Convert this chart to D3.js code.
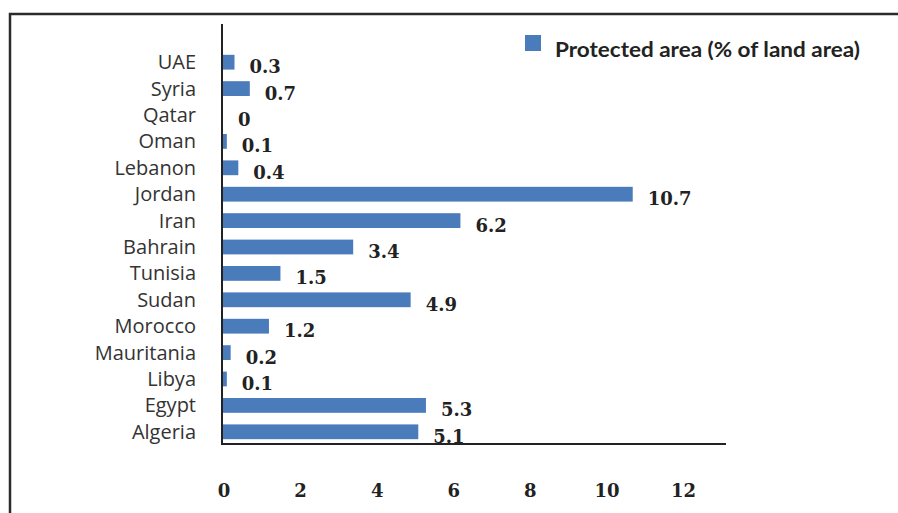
<!DOCTYPE html>
<html><head><meta charset="utf-8">
<script src="https://cdn.jsdelivr.net/npm/d3@7"></script>
<style>body{margin:0;background:#fff}svg{display:block}</style>
</head><body>
<svg id="c" width="898" height="513"></svg>
<script>
const categories = ["UAE","Syria","Qatar","Oman","Lebanon","Jordan","Iran","Bahrain","Tunisia","Sudan","Morocco","Mauritania","Libya","Egypt","Algeria"];
const values = [0.3,0.7,0,0.1,0.4,10.7,6.2,3.4,1.5,4.9,1.2,0.2,0.1,5.3,5.1];
const xTicks = [0,2,4,6,8,10,12];
const seriesName = "Protected area (% of land area)";

const svg = d3.select("#c");
// frame
svg.append("path").attr("d","M10,513 L10,14 L898,14").attr("fill","none").attr("stroke","#2b2b2b").attr("stroke-width",2.5);

const x = d3.scaleLinear().domain([0,12]).range([223,682.5]);
const y = d3.scaleBand().domain(categories).range([49,445]).paddingInner(0.44).paddingOuter(0.22);

const blue = "#4a7bbb";
svg.selectAll("rect.bar").data(values).enter().append("rect").attr("class","bar")
  .attr("x",x(0)).attr("y",(d,i)=>y(categories[i]))
  .attr("width",d=>x(d)-x(0)).attr("height",y.bandwidth()).attr("fill",blue);

svg.selectAll("text.val").data(values).enter().append("text").attr("class","val")
  .attr("x",d=>x(d)+15).attr("y",(d,i)=>y(categories[i])+y.bandwidth()/2+11)
  .attr("font-family","DejaVu Serif").attr("font-weight","bold").attr("font-size",18).attr("fill","#222")
  .text(d=>d);

// category labels
svg.selectAll("text.cat").data(categories).enter().append("text").attr("class","cat")
  .attr("x",196).attr("y",d=>y(d)+y.bandwidth()/2+7).attr("text-anchor","end")
  .attr("font-family","Open Sans").attr("font-size",20).attr("fill","#333").text(d=>d);

// axes lines
svg.append("line").attr("x1",222).attr("x2",222).attr("y1",24).attr("y2",445).attr("stroke","#222").attr("stroke-width",2);
svg.append("line").attr("x1",221).attr("x2",726).attr("y1",444).attr("y2",444).attr("stroke","#222").attr("stroke-width",2);

const xAxis = d3.axisBottom(x).tickValues(xTicks).tickSize(0).tickPadding(0);
const ax = svg.append("g").attr("transform","translate(0.5,484)").call(xAxis);
ax.select(".domain").remove();
ax.selectAll("text").attr("font-family","DejaVu Serif").attr("font-weight","bold").attr("font-size",18).attr("fill","#222").attr("dy","0.71em");

// legend
svg.append("rect").attr("x",525).attr("y",35).attr("width",16).attr("height",16).attr("fill",blue);
svg.append("text").attr("x",555).attr("y",57).attr("font-family","Lato").attr("font-weight","bold").attr("font-size",21).attr("fill","#222")
  .attr("textLength",305).attr("lengthAdjust","spacingAndGlyphs").text(seriesName);
</script>
</body></html>
